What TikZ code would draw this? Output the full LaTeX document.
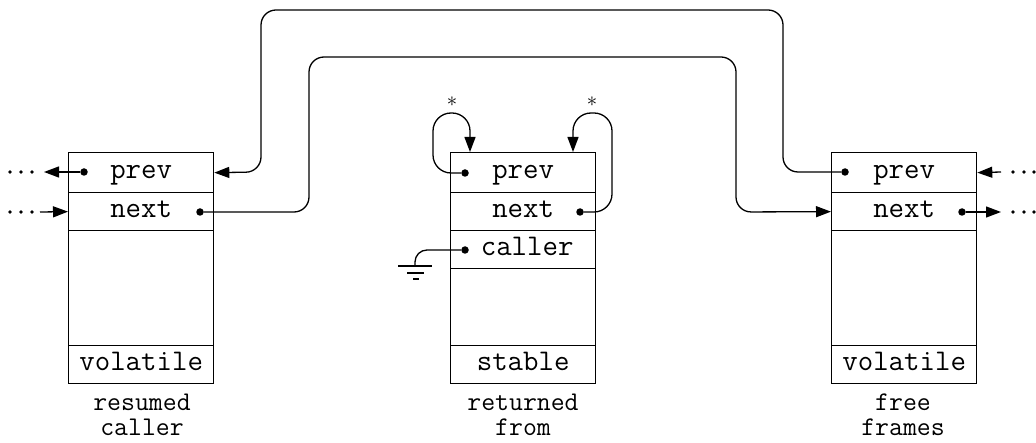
\documentclass[tikz,border=0pt]{standalone}
\usetikzlibrary{arrows.meta}
\begin{document}
\begin{tikzpicture}[x=1pt,y=-1pt,
  row/.style={draw, line width=1.3pt, minimum width=145pt, inner sep=0pt, anchor=north west,
    font=\fontsize{30}{36}\ttfamily, text height=12pt, text depth=0pt},
  lab/.style={inner sep=0pt, align=center, anchor=north, font=\fontsize{27}{25}\ttfamily},
  star/.style={inner sep=0pt, font=\fontsize{22}{22}\selectfont},
  conn/.style={line width=1.3pt},
  arr/.style={line width=1.3pt, -{Triangle[length=15pt,width=11pt]}},
  dot/.style={circle, fill, inner sep=0pt, minimum size=7.5pt},
  ell/.style={circle, fill, inner sep=0pt, minimum size=3.8pt}
]
\useasboundingbox (0,0) rectangle (1036,443);

% left box
\node[row, minimum height=40pt] (Lprev) at (68,152) {prev};
\node[row, minimum height=38pt] (Lnext) at (68,192) {next};
\node[row, minimum height=115pt] (Lbody) at (68,230) {};
\node[row, minimum height=38pt] (Lvol) at (68,345) {volatile};
\node[lab] (Lc) at (142,394) {resumed\\caller};

% middle box
\node[row, minimum height=40pt] (Mprev) at (450,152) {prev};
\node[row, minimum height=38pt] (Mnext) at (450,192) {next};
\node[row, minimum height=38pt] (Mcall) at (450,230) {\hspace*{8pt}caller};
\node[row, minimum height=77pt] (Mbody) at (450,268) {};
\node[row, minimum height=38pt] (Mst) at (450,345) {stable};
\node[lab] (Mc) at (523,394) {returned\\from};

% right box
\node[row, minimum height=40pt] (Rprev) at (831,152) {prev};
\node[row, minimum height=38pt] (Rnext) at (831,192) {next};
\node[row, minimum height=115pt] (Rbody) at (831,230) {};
\node[row, minimum height=38pt] (Rvol) at (831,345) {volatile};
\node[lab] (Rc) at (903,394) {free\\frames};

% pointer dots
\node[dot] (Lpd) at (84,172) {};
\node[dot] (Lnd) at (200,212) {};
\node[dot] (Mpd) at (465,173) {};
\node[dot] (Mnd) at (580,212) {};
\node[dot] (Mcd) at (465,250) {};
\node[dot] (Rpd) at (845,172) {};
\node[dot] (Rnd) at (962,212) {};

% ellipses
\foreach \yy/\nm in {172/a,212/b}{
  \node[ell] (Le1\nm) at (10,\yy) {};
  \node[ell] (Le2\nm) at (21,\yy) {};
  \node[ell] (Le3\nm) at (32,\yy) {};
  \node[ell] (Re1\nm) at (1013,\yy) {};
  \node[ell] (Re2\nm) at (1024,\yy) {};
  \node[ell] (Re3\nm) at (1034,\yy) {};
}

% coordinates
\coordinate (Lpt) at (44,172);
\coordinate (Lns) at (40,212);
\coordinate (Rps) at (1001,172);
\coordinate (Rnt) at (1001,212);
\coordinate (Mpin) at (470,152);
\coordinate (Mnin) at (573,152);
\coordinate (G) at (415,266);

% outside links
\draw[arr] (Lpd) -- (Lpt);
\draw[arr] (Lns) -- (Lnext.west);
\draw[arr] (Rps) -- (Rprev.east);
\draw[arr] (Rnd) -- (Rnt);

% long arcs
\draw[arr, rounded corners=15pt] (Rpd) -- (783,172) -- (783,10) -- (261,10) -- (261,172) -- (Lprev.east);
\draw[arr, rounded corners=15pt] (Lnd) -- (309,212) -- (309,57) -- (736,57) -- (736,212) -- (Rnext.west);

% self loops
\draw[arr, rounded corners=18pt] (Mpd) -- (433,173) -- (433,113) -- (470,113) -- (Mpin);
\draw[arr, rounded corners=18pt] (Mnd) -- (612,212) -- (612,113) -- (573,113) -- (Mnin);
\node[star] (s1) at (452,102) {$\ast$};
\node[star] (s2) at (592,102) {$\ast$};

% ground
\draw[conn, rounded corners=12pt] (Mcd) -- (415,250) -- (G);
\draw[conn] (398,266) -- (432,266);
\draw[conn] (407,273) -- (424,273);
\draw[conn] (413,279) -- (419,279);
\end{tikzpicture}
\end{document}
